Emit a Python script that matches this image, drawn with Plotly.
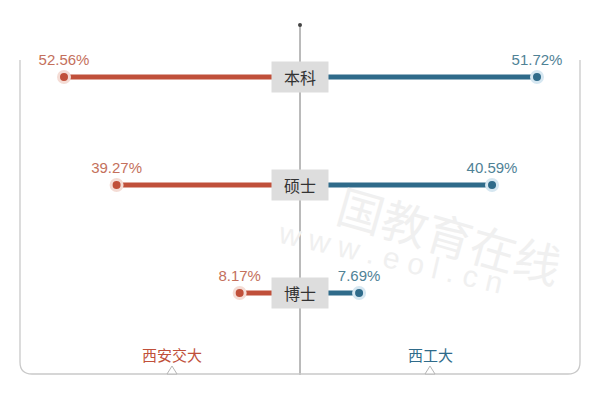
import plotly.graph_objects as go

categories = ["本科", "硕士", "博士"]
xjtu_vals = [52.56, 39.27, 8.17]
nwpu_vals = [51.72, 40.59, 7.69]
team_names = ["西安交大", "西工大"]

RED = "#c0503a"
RED_TXT = "#c4705c"
RED_HALO = "#f4dcd5"
BLUE = "#2f6b8a"
BLUE_TXT = "#4f8296"
BLUE_HALO = "#d6e7f1"
FONT = "Noto Sans CJK SC, Noto Sans, sans-serif"

W, H = 600, 400

def px(x):
    return x / W

def py(y):
    return 1 - y / H

fig = go.Figure()

for vals, xa, col in [(xjtu_vals, "x", RED), (nwpu_vals, "x2", BLUE)]:
    xs, ys = [], []
    for c, v in zip(categories, vals):
        xs += [0, v, None]
        ys += [c, c, None]
    fig.add_trace(go.Scatter(x=xs, y=ys, mode="lines", xaxis=xa, yaxis="y",
                             line=dict(color=col, width=5), hoverinfo="skip",
                             showlegend=False))

fig.add_trace(go.Scatter(
    x=xjtu_vals, y=categories, mode="markers+text", xaxis="x", yaxis="y",
    marker=dict(size=11, color=RED, line=dict(color=RED_HALO, width=3)),
    text=[f"{v:.2f}%" for v in xjtu_vals], textposition="top center",
    textfont=dict(size=15, color=RED_TXT, family="Liberation Sans, Arial"),
    showlegend=False))
fig.add_trace(go.Scatter(
    x=nwpu_vals, y=categories, mode="markers+text", xaxis="x2", yaxis="y",
    marker=dict(size=11, color=BLUE, line=dict(color=BLUE_HALO, width=3)),
    text=[f"{v:.2f}%" for v in nwpu_vals], textposition="top center",
    textfont=dict(size=15, color=BLUE_TXT, family="Liberation Sans, Arial"),
    showlegend=False))

left_scale = (272 - 64) / xjtu_vals[0]
right_scale = (537 - 328) / nwpu_vals[0]

shapes = []
shapes.append(dict(type="line", xref="paper", yref="paper", x0=0.5, x1=0.5,
                   y0=py(375), y1=py(25), line=dict(color="#777777", width=1), layer="below"))
shapes.append(dict(type="circle", xref="paper", yref="paper",
                   x0=px(298), x1=px(302), y0=py(27), y1=py(23),
                   fillcolor="#444444", line=dict(width=0)))
x0, x1 = px(20), px(580)
yt, yb = py(60), py(374)
r_x, r_y = px(12), 12 / H
path = (f"M {x0},{yt} L {x0},{yb + r_y} Q {x0},{yb} {x0 + r_x},{yb} "
        f"L {x1 - r_x},{yb} Q {x1},{yb} {x1},{yb + r_y} L {x1},{yt}")
shapes.append(dict(type="path", xref="paper", yref="paper", path=path,
                   line=dict(color="#c9c9c9", width=1.3), layer="below"))
for cx in (172, 430):
    tp = f"M {px(cx-5)},{py(374)} L {px(cx)},{py(366)} L {px(cx+5)},{py(374)} Z"
    shapes.append(dict(type="path", xref="paper", yref="paper", path=tp,
                       fillcolor="white", line=dict(color="#b5b5b5", width=1)))

annotations = []
# watermark (the first character is hidden behind the centre label in the original)
annotations.append(dict(x=px(450), y=py(234), xref="paper", yref="paper",
                        xanchor="center", yanchor="middle",
                        text="国教育在线", showarrow=False, textangle=16,
                        font=dict(size=46, color="#f0f0f0", family=FONT)))
annotations.append(dict(x=px(390), y=py(257), xref="paper", yref="paper",
                        xanchor="center", yanchor="middle",
                        text="w w w . e o l . c n", showarrow=False, textangle=13,
                        font=dict(size=30, color="#f0f0f0", family="Liberation Sans")))
for c in categories:
    annotations.append(dict(x=0.5, y=c, xref="paper", yref="y", text=c,
                            xanchor="center", yanchor="middle",
                            showarrow=False, bgcolor="#dddddd", width=54, height=28,
                            borderpad=1, font=dict(size=16, color="#333333", family=FONT)))
annotations.append(dict(x=px(172), y=py(354), xref="paper", yref="paper",
                        xanchor="center", yanchor="middle",
                        text=team_names[0], showarrow=False,
                        font=dict(size=15, color=RED, family=FONT)))
annotations.append(dict(x=px(430), y=py(354), xref="paper", yref="paper",
                        xanchor="center", yanchor="middle",
                        text=team_names[1], showarrow=False,
                        font=dict(size=15, color=BLUE, family=FONT)))

y_top_px, y_step = 77, 108
fig.update_layout(
    width=W, height=H, margin=dict(l=0, r=0, t=0, b=0),
    paper_bgcolor="white", plot_bgcolor="white",
    xaxis=dict(domain=[0, 272 / W], range=[272 / left_scale, 0], visible=False,
               fixedrange=True),
    xaxis2=dict(domain=[328 / W, 1], range=[0, 272 / right_scale], visible=False,
                fixedrange=True),
    yaxis=dict(type="category", categoryarray=categories, visible=False,
               fixedrange=True,
               range=[(H - y_top_px) / y_step, -y_top_px / y_step]),
    shapes=shapes, annotations=annotations, showlegend=False,
)

fig.write_html("out.html", config={"displayModeBar": False},
               post_script="document.body.style.margin='0';")
